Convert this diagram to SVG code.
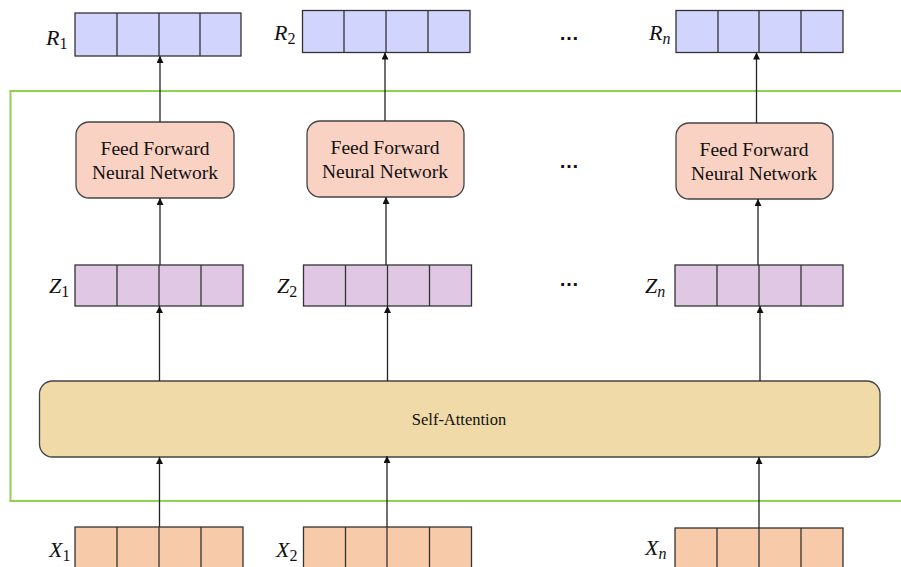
<svg xmlns="http://www.w3.org/2000/svg" width="901" height="567" viewBox="0 0 901 567">
<style>
.cell{stroke:#333;stroke-width:1.3}
.r{fill:#d1d4fc}.z{fill:#e0c8e4}.x{fill:#f7caa9}
.ffn{fill:#f9d2c3;stroke:#444;stroke-width:1.3}
.sa{fill:#f0daa8;stroke:#444;stroke-width:1.3}
.conn{stroke:#222;stroke-width:1.3;fill:none;marker-end:url(#ah)}
.t{font-family:"Liberation Serif","Times New Roman",serif;font-size:19.5px;fill:#111;text-anchor:middle}
.lab{font-family:"Liberation Serif","Times New Roman",serif;font-style:italic;font-size:22px;fill:#111}
.sub{font-size:16px;font-style:normal}
.subi{font-size:16px}
.dots{font-family:"Liberation Sans",Arial,sans-serif;font-weight:bold;font-size:20px;fill:#111;text-anchor:middle}
</style>
<defs>
<marker id="ah" viewBox="0 0 10 10" refX="10" refY="5" markerWidth="7" markerHeight="7" markerUnits="userSpaceOnUse" orient="auto">
<path d="M0,0 L10,5 L0,10 z" fill="#111"/>
</marker>
</defs>

<rect id="encoder-frame" x="10.5" y="91" width="900" height="410" fill="none" stroke="#92d050" stroke-width="2"/>

<g id="R1">
<rect class="cell r" x="75" y="13" width="166" height="43"/>
<line class="cell" x1="117" y1="13" x2="117" y2="56"/><line class="cell" x1="159" y1="13" x2="159" y2="56"/><line class="cell" x1="200" y1="13" x2="200" y2="56"/>
<text class="lab" x="46" y="45">R<tspan class="sub" dy="4">1</tspan></text>
</g>
<g id="R2">
<rect class="cell r" x="302.5" y="10.5" width="167.5" height="42"/>
<line class="cell" x1="344" y1="10.5" x2="344" y2="52.5"/><line class="cell" x1="386" y1="10.5" x2="386" y2="52.5"/><line class="cell" x1="428" y1="10.5" x2="428" y2="52.5"/>
<text class="lab" x="274" y="40">R<tspan class="sub" dy="4">2</tspan></text>
</g>
<g id="Rn">
<rect class="cell r" x="676" y="10.5" width="167" height="42"/>
<line class="cell" x1="718" y1="10.5" x2="718" y2="52.5"/><line class="cell" x1="759" y1="10.5" x2="759" y2="52.5"/><line class="cell" x1="801" y1="10.5" x2="801" y2="52.5"/>
<text class="lab" x="649" y="40">R<tspan class="subi" dy="4">n</tspan></text>
</g>
<text id="dots-r" class="dots" x="569" y="40">…</text>

<g id="FFN1">
<rect class="ffn" x="76" y="122" width="158" height="76" rx="13"/>
<text class="t" x="155" y="155">Feed Forward</text>
<text class="t" x="155" y="179">Neural Network</text>
</g>
<g id="FFN2">
<rect class="ffn" x="307" y="121" width="157" height="76" rx="13"/>
<text class="t" x="385" y="154">Feed Forward</text>
<text class="t" x="385" y="178">Neural Network</text>
</g>
<g id="FFNn">
<rect class="ffn" x="676" y="123" width="157" height="76" rx="13"/>
<text class="t" x="754" y="156">Feed Forward</text>
<text class="t" x="754" y="180">Neural Network</text>
</g>
<text id="dots-ffn" class="dots" x="569" y="168">…</text>

<g id="Z1">
<rect class="cell z" x="75" y="265" width="168" height="41"/>
<line class="cell" x1="117" y1="265" x2="117" y2="306"/><line class="cell" x1="159" y1="265" x2="159" y2="306"/><line class="cell" x1="201" y1="265" x2="201" y2="306"/>
<text class="lab" x="49" y="293">Z<tspan class="sub" dy="4">1</tspan></text>
</g>
<g id="Z2">
<rect class="cell z" x="303.5" y="265" width="168" height="41"/>
<line class="cell" x1="345.5" y1="265" x2="345.5" y2="306"/><line class="cell" x1="387.5" y1="265" x2="387.5" y2="306"/><line class="cell" x1="429.5" y1="265" x2="429.5" y2="306"/>
<text class="lab" x="277" y="293">Z<tspan class="sub" dy="4">2</tspan></text>
</g>
<g id="Zn">
<rect class="cell z" x="675" y="265" width="168" height="41"/>
<line class="cell" x1="717" y1="265" x2="717" y2="306"/><line class="cell" x1="759" y1="265" x2="759" y2="306"/><line class="cell" x1="801" y1="265" x2="801" y2="306"/>
<text class="lab" x="645" y="293">Z<tspan class="subi" dy="4">n</tspan></text>
</g>
<text id="dots-z" class="dots" x="569" y="286">…</text>

<g id="self-attention">
<rect class="sa" x="39.5" y="381" width="840.5" height="76" rx="13"/>
<text class="t" x="459" y="425" style="font-size:16.5px">Self-Attention</text>
</g>

<g id="X1">
<rect class="cell x" x="75" y="527" width="168" height="50"/>
<line class="cell" x1="117" y1="527" x2="117" y2="567"/><line class="cell" x1="159" y1="527" x2="159" y2="567"/><line class="cell" x1="201" y1="527" x2="201" y2="567"/>
<text class="lab" x="49" y="557">X<tspan class="sub" dy="4">1</tspan></text>
</g>
<g id="X2">
<rect class="cell x" x="303.5" y="527" width="168" height="50"/>
<line class="cell" x1="345.5" y1="527" x2="345.5" y2="567"/><line class="cell" x1="387" y1="527" x2="387" y2="567"/><line class="cell" x1="429.5" y1="527" x2="429.5" y2="567"/>
<text class="lab" x="276" y="557">X<tspan class="sub" dy="4">2</tspan></text>
</g>
<g id="Xn">
<rect class="cell x" x="675" y="528" width="168" height="50"/>
<line class="cell" x1="717" y1="528" x2="717" y2="567"/><line class="cell" x1="759" y1="528" x2="759" y2="567"/><line class="cell" x1="801" y1="528" x2="801" y2="567"/>
<text class="lab" x="645" y="555">X<tspan class="subi" dy="4">n</tspan></text>
</g>

<g id="connectors">
<line class="conn" x1="159.5" y1="527" x2="159.5" y2="457"/>
<line class="conn" x1="387" y1="527" x2="387" y2="456"/>
<line class="conn" x1="759" y1="528" x2="759" y2="457"/>
<line class="conn" x1="159.5" y1="381" x2="159.5" y2="306"/>
<line class="conn" x1="387.5" y1="381" x2="387.5" y2="306"/>
<line class="conn" x1="760" y1="381" x2="760" y2="306"/>
<line class="conn" x1="160" y1="265" x2="160" y2="198"/>
<line class="conn" x1="386" y1="265" x2="386" y2="197"/>
<line class="conn" x1="758" y1="265" x2="758" y2="199"/>
<line class="conn" x1="160" y1="122" x2="160" y2="56"/>
<line class="conn" x1="385" y1="121" x2="385" y2="52.5"/>
<line class="conn" x1="756.5" y1="123" x2="756.5" y2="52.5"/>
</g>
</svg>
